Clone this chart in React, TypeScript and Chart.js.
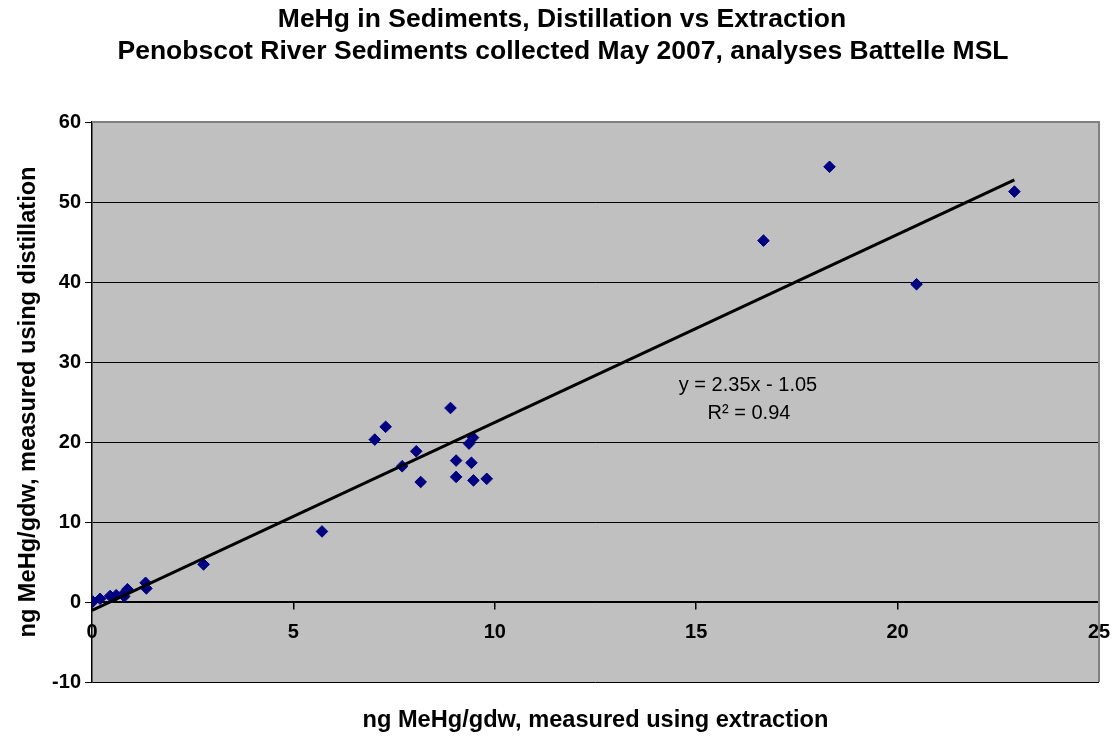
import React, { useEffect, useRef } from 'react';
import { Chart, registerables } from 'chart.js';

Chart.register(...registerables);

// ---- data ----
const extractionX = [
  0.02, 0.2, 0.45, 0.6, 0.8, 0.82, 0.88, 1.33, 1.35, 2.77,
  5.71, 7.02, 7.29, 7.7, 8.05, 8.16, 8.9, 9.04, 9.04, 9.36,
  9.46, 9.42, 9.47, 9.8, 16.67, 18.31, 20.47, 22.9,
];
const distillationY = [
  0.05, 0.4, 0.75, 0.85, 0.7, 1.2, 1.6, 2.4, 1.7, 4.7,
  8.82, 20.3, 21.9, 16.97, 18.84, 15.0, 24.25, 17.68, 15.64, 19.8,
  20.55, 17.4, 15.2, 15.4, 45.17, 54.4, 39.72, 51.3,
];
const trendSlope = 2.35;
const trendIntercept = -1.05;
const trendR2 = 0.94;

const titleLines = [
  'MeHg in Sediments, Distillation vs Extraction',
  'Penobscot River Sediments collected May 2007, analyses Battelle MSL',
];
const xAxisTitle = 'ng MeHg/gdw, measured using extraction';
const yAxisTitle = 'ng MeHg/gdw, measured using distillation';

const xMin = 0, xMax = 25, xStep = 5;
const yMin = -10, yMax = 60, yStep = 10;

const FONT = '"Liberation Sans", Arial, sans-serif';

export default function App() {
  const ref = useRef<HTMLCanvasElement | null>(null);

  useEffect(() => {
    document.body.style.margin = '0';
    const canvas = ref.current;
    if (!canvas) return;

    const points = extractionX.map((x, i) => ({ x, y: distillationY[i] }));
    const tx0 = Math.min(0, ...extractionX);
    const tx1 = Math.max(...extractionX);
    const trend = [
      { x: tx0, y: trendSlope * tx0 + trendIntercept },
      { x: tx1, y: trendSlope * tx1 + trendIntercept },
    ];

    const decor = {
      id: 'decor',
      beforeDraw(chart: any) {
        const { ctx, chartArea: a } = chart;
        ctx.save();
        ctx.fillStyle = '#ffffff';
        ctx.fillRect(0, 0, chart.width, chart.height);
        ctx.fillStyle = '#C0C0C0';
        ctx.fillRect(a.left, a.top, a.right - a.left, a.bottom - a.top);
        ctx.restore();
      },
      beforeDatasetsDraw(chart: any) {
        const { ctx, chartArea: a } = chart;
        ctx.save();
        ctx.strokeStyle = '#808080';
        ctx.lineWidth = 2;
        ctx.beginPath();
        ctx.moveTo(a.left, a.top);
        ctx.lineTo(a.right, a.top);
        ctx.lineTo(a.right, a.bottom);
        ctx.stroke();
        ctx.restore();
      },
      afterDraw(chart: any) {
        const { ctx, chartArea: a } = chart;
        ctx.save();
        ctx.fillStyle = '#000';
        ctx.textAlign = 'center';
        ctx.textBaseline = 'middle';
        ctx.font = `bold 26.5px ${FONT}`;
        ctx.fillText(titleLines[0], 562, 20);
        ctx.fillText(titleLines[1], 563, 52);

        ctx.font = `bold 23.6px ${FONT}`;
        ctx.fillText(xAxisTitle, (a.left + a.right) / 2, 720);
        ctx.save();
        ctx.translate(28, (a.top + a.bottom) / 2);
        ctx.rotate(-Math.PI / 2);
        ctx.fillText(yAxisTitle, 0, 0);
        ctx.restore();

        ctx.font = `20px ${FONT}`;
        const sign = trendIntercept < 0 ? '-' : '+';
        ctx.fillText(
          `y = ${trendSlope.toFixed(2)}x ${sign} ${Math.abs(trendIntercept).toFixed(2)}`,
          748, 385
        );
        ctx.fillText(`R² = ${trendR2.toFixed(2)}`, 749, 413);
        ctx.restore();
      },
    };

    const tickFont = { family: FONT, size: 20, weight: 'bold' as const };

    const chart = new Chart(canvas, {
      type: 'scatter',
      data: {
        datasets: [
          {
            type: 'line',
            label: 'trend',
            data: trend,
            borderColor: '#000',
            borderWidth: 3,
            pointRadius: 0,
            fill: false,
            showLine: true,
          } as any,
          {
            type: 'scatter',
            label: 'MeHg',
            data: points,
            pointStyle: 'rectRot',
            pointRadius: 5.8,
            backgroundColor: '#000080',
            borderColor: '#000080',
            borderWidth: 1,
          },
        ],
      },
      options: {
        animation: false,
        responsive: false,
        layout: { padding: { top: 122, right: 16, bottom: 56, left: 0 } },
        plugins: {
          legend: { display: false },
          tooltip: { enabled: false },
          title: { display: false },
        },
        scales: {
          x: {
            type: 'linear',
            min: xMin,
            max: xMax,
            position: { y: 0 } as any,
            ticks: { stepSize: xStep, color: '#000', font: tickFont, padding: 11, maxRotation: 0 },
            grid: { drawOnChartArea: false, drawTicks: true, tickLength: 7, color: '#000', lineWidth: 1.5 },
            border: { color: '#000', width: 1.5 },
            afterFit: (s: any) => { s.paddingLeft = 0; s.paddingRight = 0; },
          },
          y: {
            type: 'linear',
            min: yMin,
            max: yMax,
            ticks: { stepSize: yStep, color: '#000', font: tickFont, padding: 4 },
            grid: { color: '#000', lineWidth: 1, tickLength: 7, drawTicks: true },
            border: { color: '#000', width: 1.5 },
            afterFit: (s: any) => { s.width = 92; s.paddingTop = 0; s.paddingBottom = 0; },
          },
        },
      },
      plugins: [decor],
    });

    return () => chart.destroy();
  }, []);

  return (
    <div style={{ position: 'fixed', left: 0, top: 0, width: 1115, height: 738, background: '#fff' }}>
      <canvas ref={ref} width={1115} height={738} style={{ display: 'block', width: 1115, height: 738 }} />
    </div>
  );
}
